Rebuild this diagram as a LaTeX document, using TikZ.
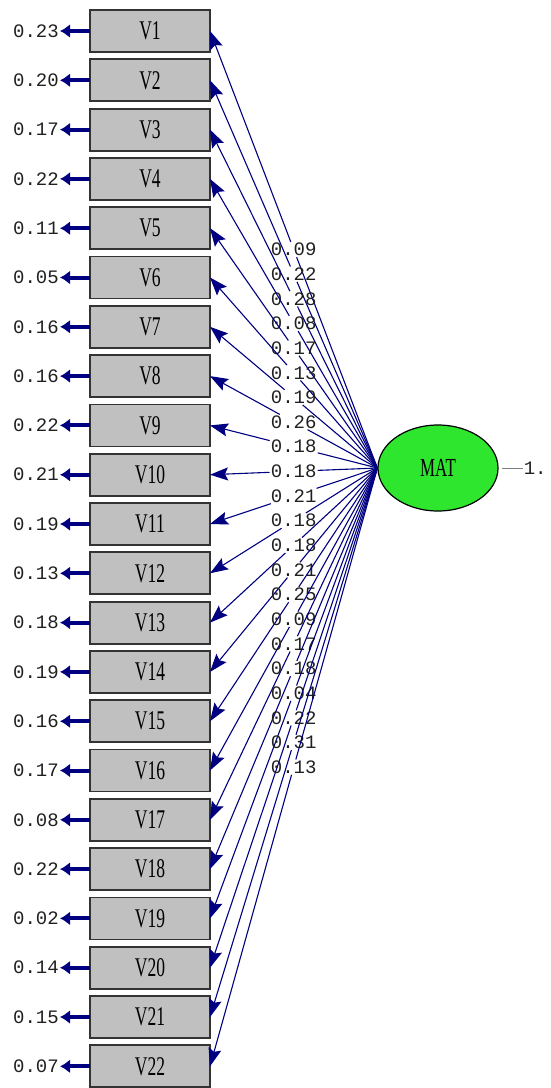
\documentclass[tikz,border=0pt]{standalone}
\usepackage{fontspec}
\usetikzlibrary{arrows.meta,positioning,shapes.geometric}
\newfontfamily\monofont{Liberation Mono}
\newfontfamily\boxfont[FakeStretch=0.65]{Liberation Serif}
\definecolor{navy}{RGB}{0,0,128}
\definecolor{boxgray}{HTML}{C0C0C0}
\definecolor{latgreen}{HTML}{2EE62E}
\definecolor{valink}{HTML}{202020}
\tikzset{
  varbox/.style={
    draw=black!80,
    line width=1.8pt,
    fill=boxgray,
    minimum width=120pt,
    minimum height=42pt,
    inner sep=0pt,
    outer sep=0pt,
    font=\boxfont\fontsize{27}{27}\selectfont
  },
  latent/.style={
    ellipse,
    draw=black,
    line width=1.2pt,
    fill=latgreen,
    minimum width=120pt,
    minimum height=86pt,
    inner sep=0pt,
    font=\boxfont\fontsize{26}{26}\selectfont
  },
  valtext/.style={
    inner sep=1pt,
    text=valink,
    font=\monofont\fontsize{19}{19}\selectfont
  },
  errarrow/.style={-{Latex[length=10pt,width=14pt]},line width=4pt,draw=navy},
  loadline/.style={line width=1.1pt,draw=navy},
  loadarrow/.style={-{Stealth[length=18pt,width=13pt,inset=3pt]},line width=1.1pt,draw=navy}
}

\begin{document}
\begin{tikzpicture}[x=1pt,y=-1pt,node distance=7.3pt]
\useasboundingbox (0,0) rectangle (550,1088);
% observed variables
\node[varbox] (v1) at (150,31) {V1};
\foreach \i [evaluate=\i as \j using int(\i-1)] in {2,...,22}
  \node[varbox,below=of v\j] (v\i) {V\i};
% error variances
\foreach \i/\e in {1/0.23,2/0.20,3/0.17,4/0.22,5/0.11,6/0.05,7/0.16,8/0.16,
                   9/0.22,10/0.21,11/0.19,12/0.13,13/0.18,14/0.19,15/0.16,
                   16/0.17,17/0.08,18/0.22,19/0.02,20/0.14,21/0.15,22/0.07}{
  \node[valtext,left=30pt of v\i] (e\i) {\e};
  \draw[errarrow] (v\i) -- (e\i);
}
% latent factor
\node[latent] (mat) at (438,468) {MAT};
\node[valtext,right=24pt of mat] (one) {1.};
\draw[gray,line width=1pt,shorten <=3pt] (mat) -- (one);
% loadings
\foreach \i/\l in {1/0.09,2/0.22,3/0.28,4/0.08,5/0.17,6/0.13,7/0.19,8/0.26,
                   9/0.18,10/0.18,11/0.21,12/0.18,13/0.18,14/0.21,15/0.25,
                   16/0.09,17/0.17,18/0.18,19/0.04,20/0.22,21/0.31,22/0.13}{
  \path (mat.west) -- (v\i.east) node[valtext,midway] (l\i) {\l};
  \draw[loadline] (mat.west) -- (l\i);
  \draw[loadarrow] (l\i) -- (v\i.east);
}
\end{tikzpicture}
\end{document}
